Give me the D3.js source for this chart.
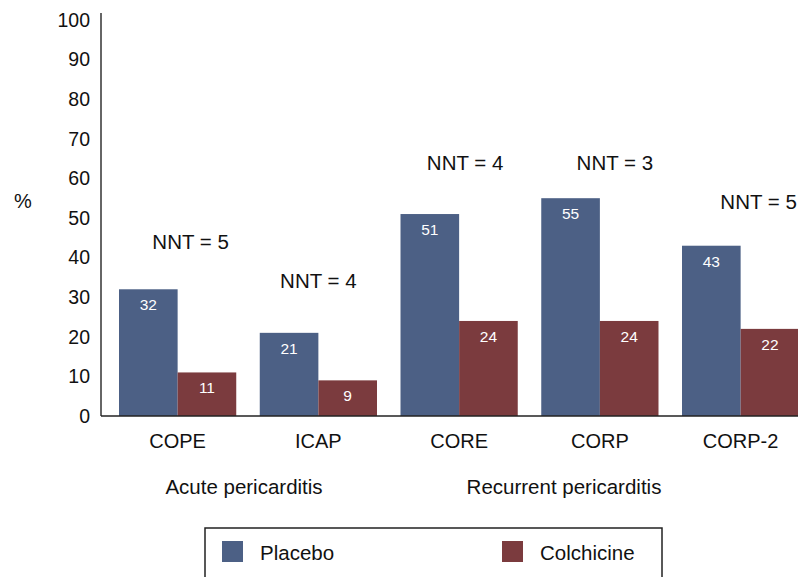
<!DOCTYPE html>
<html>
<head>
<meta charset="utf-8">
<script src="https://cdn.jsdelivr.net/npm/d3@7"></script>
<style>
  html, body { margin: 0; padding: 0; background: #fff; }
  svg { display: block; font-family: "Liberation Sans", Arial, Helvetica, sans-serif; }
</style>
</head>
<body>
<svg id="chart" width="798" height="577"></svg>
<script>
// ---- data ----
const categories = ["COPE", "ICAP", "CORE", "CORP", "CORP-2"];
const placebo = [32, 21, 51, 55, 43];
const colchicine = [11, 9, 24, 24, 22];
const nntLabels = ["NNT = 5", "NNT = 4", "NNT = 4", "NNT = 3", "NNT = 5"];
const nntLevel = [44, 34, 64, 64, 54];   // height (in %) where each NNT label sits
const yTicks = [0, 10, 20, 30, 40, 50, 60, 70, 80, 90, 100];
const seriesNames = ["Placebo", "Colchicine"];
const groupLabels = ["Acute pericarditis", "Recurrent pericarditis"];

const colors = { Placebo: "#4c6085", Colchicine: "#7b3b3e" };

const svg = d3.select("#chart");

const y = d3.scaleLinear().domain([0, 100]).range([416, 20]);
const x = d3.scaleBand().domain(categories).range([107.25, 811])
  .paddingInner(0.167).paddingOuter(0.0835);
const xs = d3.scaleBand().domain(seriesNames).range([0, x.bandwidth()]);

// y axis labels
const yAxis = d3.axisLeft(y).tickValues(yTicks).tickSize(0).tickPadding(11);
const gy = svg.append("g").attr("transform", "translate(101,0)").call(yAxis);
gy.select(".domain").remove();
gy.selectAll("text").attr("font-size", 19.5).attr("fill", "#111")
  .attr("font-family", "Liberation Sans, Arial, sans-serif");

// bars
const rows = categories.map((c, i) => ({ cat: c, vals: [placebo[i], colchicine[i]] }));
const grp = svg.append("g").selectAll("g").data(rows).join("g")
  .attr("transform", d => `translate(${x(d.cat)},0)`);

grp.selectAll("rect").data(d => d.vals.map((v, j) => ({ s: seriesNames[j], v })))
  .join("rect")
  .attr("x", d => xs(d.s))
  .attr("y", d => y(d.v))
  .attr("width", xs.bandwidth())
  .attr("height", d => y(0) - y(d.v))
  .attr("fill", d => colors[d.s]);

grp.selectAll("text.val").data(d => d.vals.map((v, j) => ({ s: seriesNames[j], v })))
  .join("text")
  .attr("class", "val")
  .attr("x", d => xs(d.s) + xs.bandwidth() / 2)
  .attr("y", d => y(d.v) + 21)
  .attr("text-anchor", "middle")
  .attr("font-size", 15.5)
  .attr("fill", "#fff")
  .text(d => d.v);

// axes lines
svg.append("line").attr("x1", 101).attr("x2", 101).attr("y1", 13).attr("y2", y(0))
  .attr("stroke", "#333").attr("stroke-width", 1.5);
svg.append("line").attr("x1", 101).attr("x2", 798).attr("y1", y(0)).attr("y2", y(0))
  .attr("stroke", "#222").attr("stroke-width", 1.5);

// category labels
svg.append("g").selectAll("text").data(categories).join("text")
  .attr("x", d => x(d) + x.bandwidth() / 2)
  .attr("y", 448)
  .attr("text-anchor", "middle")
  .attr("font-size", 20)
  .attr("fill", "#111")
  .text(d => d);

// NNT labels
svg.append("g").selectAll("text").data(categories).join("text")
  .attr("x", (d, i) => x(d) + x.bandwidth() / 2 + [13, 0, 6, 15, 18][i])
  .attr("y", (d, i) => y(nntLevel[i]) + 7)
  .attr("text-anchor", "middle")
  .attr("font-size", 20.5)
  .attr("fill", "#111")
  .text((d, i) => nntLabels[i]);

// group labels
svg.append("text").attr("x", 244).attr("y", 494).attr("text-anchor", "middle")
  .attr("font-size", 20.5).attr("fill", "#111").text(groupLabels[0]);
svg.append("text").attr("x", 564).attr("y", 494).attr("text-anchor", "middle")
  .attr("font-size", 20.5).attr("fill", "#111").text(groupLabels[1]);

// % label
svg.append("text").attr("x", 23).attr("y", 208).attr("text-anchor", "middle")
  .attr("font-size", 20).attr("fill", "#111").text("%");

// legend
const lg = svg.append("g");
lg.append("rect").attr("x", 205).attr("y", 528).attr("width", 457).attr("height", 80)
  .attr("fill", "none").attr("stroke", "#222").attr("stroke-width", 1.5);
const legendX = [222, 502];
seriesNames.forEach((s, i) => {
  lg.append("rect").attr("x", legendX[i]).attr("y", 541).attr("width", 21).attr("height", 21)
    .attr("fill", colors[s]);
  lg.append("text").attr("x", legendX[i] + 38).attr("y", 560)
    .attr("font-size", 20.5).attr("fill", "#111").text(s);
});
</script>
</body>
</html>
